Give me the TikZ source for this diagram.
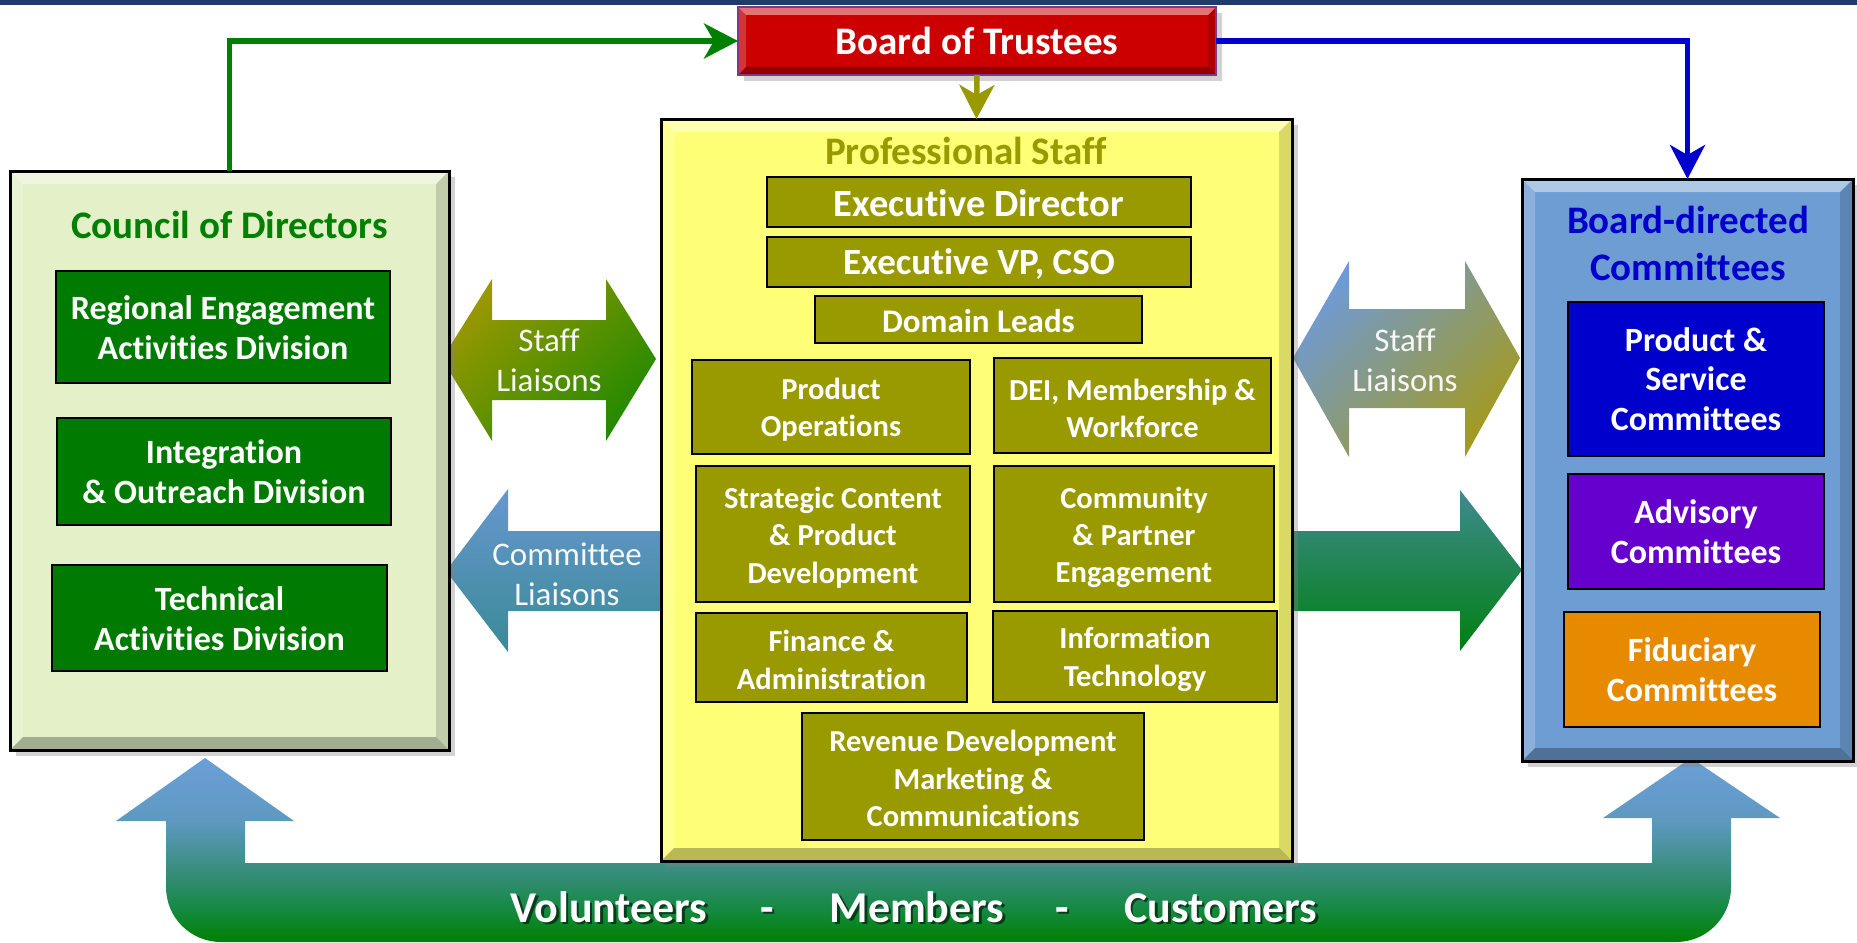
\documentclass[tikz,border=0pt]{standalone}
\usepackage{fontspec}
\setmainfont{Carlito}[Ligatures={NoCommon}]
\usetikzlibrary{arrows.meta,shadows,calc}

\definecolor{topband}{HTML}{1F3B68}
\definecolor{trustred}{HTML}{CC0000}
\definecolor{trustborder}{HTML}{7A3A8A}
\definecolor{councilbg}{HTML}{E3F0C8}
\definecolor{divgreen}{HTML}{007A00}
\definecolor{titlegreen}{HTML}{008000}
\definecolor{staffyellow}{HTML}{FFFF77}
\definecolor{olivebox}{HTML}{999900}
\definecolor{boardblue}{HTML}{6D9DD3}
\definecolor{titleblue}{HTML}{0000CC}
\definecolor{psblue}{HTML}{0000CC}
\definecolor{advpurple}{HTML}{6600CC}
\definecolor{fidorange}{HTML}{E88A00}
\definecolor{lsA}{HTML}{9A9800}
\definecolor{lsB}{HTML}{248A00}
\definecolor{rsA}{HTML}{6F9AD6}
\definecolor{rsB}{HTML}{A39A20}
\definecolor{clA}{HTML}{6797D0}
\definecolor{clB}{HTML}{3A8A95}
\definecolor{rgA}{HTML}{3F8A90}
\definecolor{rgB}{HTML}{008010}
\definecolor{uS1}{HTML}{008000}
\definecolor{uS2}{HTML}{168A45}
\definecolor{uS3}{HTML}{2D8B6A}
\definecolor{uS4}{HTML}{3F8F88}
\definecolor{uS5}{HTML}{5094A8}
\definecolor{uS6}{HTML}{5E99C0}
\definecolor{uS7}{HTML}{6B9FD8}

\pgfdeclareverticalshading{ushade}{100bp}{color(0bp)=(uS1); color(25bp)=(uS1); color(34.5bp)=(uS2); color(41bp)=(uS3); color(46.5bp)=(uS4); color(52.7bp)=(uS5); color(57.9bp)=(uS6); color(75bp)=(uS7); color(100bp)=(uS7)}

% panel without text
\newcommand\orgbox[6]{%
  \pgfmathsetmacro\obw{#4-#2}%
  \pgfmathsetmacro\obh{#5-#3}%
  \node[#6, minimum width=\obw pt, minimum height=\obh pt] (#1) at ({(#2+#4)/2},{(#3+#5)/2}) {};%
}
% unit box with text (text shifted down by #8)
\newcommand\unitnode[8]{%
  \pgfmathsetmacro\obw{#4-#2}%
  \pgfmathsetmacro\obh{#5-#3}%
  \node[#6, minimum width=\obw pt, minimum height=\obh pt] (#1) at ({(#2+#4)/2},{(#3+#5)/2}) {};%
  \node[#6, draw=none, fill=none, minimum width=0pt, minimum height=0pt, yshift=-#8pt] (#1text) at (#1) {#7};%
}
\newcommand\bevelbox[4]{%
  \fill[white,opacity=.45] (#1.north west) -- (#1.north east) -- ($(#1.north east)+(-#2,#2)$) -- ($(#1.north west)+(#2,#2)$) -- cycle;
  \fill[white,opacity=.2] (#1.north west) -- ($(#1.north west)+(#2,#2)$) -- ($(#1.south west)+(#2,-#2)$) -- (#1.south west) -- cycle;
  \fill[black,opacity=.28] (#1.south west) -- ($(#1.south west)+(#2,-#2)$) -- ($(#1.south east)+(-#2,-#2)$) -- (#1.south east) -- cycle;
  \fill[black,opacity=.15] (#1.north east) -- (#1.south east) -- ($(#1.south east)+(-#2,-#2)$) -- ($(#1.north east)+(-#2,#2)$) -- cycle;
  \draw[line width=#3, draw=#4] (#1.north west) rectangle (#1.south east);
}

\begin{document}
\begin{tikzpicture}[x=1pt,y=-1pt,
  every node/.style={inner sep=0pt, outer sep=0pt},
  panelbox/.style={fill=#1, drop shadow={shadow xshift=6pt,shadow yshift=-6pt,opacity=.35}},
  unitbox/.style={draw=black, line width=2.5pt, fill=#1, text=white, align=center},
  divbox/.style={unitbox=divgreen, font=\bfseries\fontsize{34}{40}\selectfont},
  olbox/.style={unitbox=olivebox, font=\bfseries\fontsize{30.5}{37.3}\selectfont},
  execbox/.style={unitbox=olivebox, font=\bfseries\fontsize{#1}{44}\selectfont},
  combox/.style={unitbox=#1, font=\bfseries\fontsize{34}{39.5}\selectfont},
  paneltitle/.style={text=#1, align=center, font=\bfseries\fontsize{39}{47}\selectfont},
  liaison/.style={text=white!94!gray, align=center, font=\fontsize{33}{40}\selectfont},
  peopletext/.style={text=white, anchor=base, font=\bfseries\fontsize{44}{50}\selectfont},
  peopleshadow/.style={text=black, opacity=.55, anchor=base, font=\bfseries\fontsize{44}{50}\selectfont},
  tipstyle/.style={-{Stealth[length=34pt,width=35pt,inset=10pt]}},
  linkgreen/.style={draw=titlegreen, line width=5.5pt, tipstyle},
  linkblue/.style={draw=titleblue, line width=5.5pt, tipstyle},
  linkolive/.style={draw=olivebox, line width=5.5pt, tipstyle},
]
\useasboundingbox (0,0) rectangle (1857,942);
\fill[white] (0,0) rectangle (1857,942);
\fill[topband] (0,0) rectangle (1857,5);

% ---- bottom U arrow
\path[shade, shading=ushade]
  (205,758) -- (294,821) -- (245,821) -- (245,863) -- (1652,863) -- (1652,818) -- (1603,818)
  -- (1691,758) -- (1780,818) -- (1731,818) -- (1731,887)
  .. controls (1731,917) and (1707,942) .. (1676,942) -- (221,942)
  .. controls (191,942) and (166,918) .. (166,887) -- (166,821) -- (116,821) -- cycle;
\node[peopleshadow] (volsh) at (611.5,924.5) {Volunteers};
\node[peopleshadow] (d1sh) at (769.5,924.5) {-};
\node[peopleshadow] (memsh) at (919.5,924.5) {Members};
\node[peopleshadow] (d2sh) at (1064.5,924.5) {-};
\node[peopleshadow] (cussh) at (1223.5,924.5) {Customers};
\node[peopletext] (vol) at (609,922) {Volunteers};
\node[peopletext] (d1) at (767,922) {-};
\node[peopletext] (mem) at (917,922) {Members};
\node[peopletext] (d2) at (1062,922) {-};
\node[peopletext] (cus) at (1221,922) {Customers};

% ---- block arrows
\path[shade, top color=lsA, bottom color=lsB, shading angle=45]
  (442,359) -- (492,279) -- (492,320) -- (606,320) -- (606,279) -- (656,359)
  -- (606,441) -- (606,400) -- (492,400) -- (492,441) -- cycle;
\path[shade, top color=clA, bottom color=clB]
  (661,531) -- (508,531) -- (508,489) -- (446,571) -- (508,652) -- (508,611) -- (661,611) -- cycle;
\path[shade, top color=rsA, bottom color=rsB, shading angle=45]
  (1293,358) -- (1349,261) -- (1349,309) -- (1465,309) -- (1465,261) -- (1520,358)
  -- (1465,457) -- (1465,408) -- (1349,408) -- (1349,457) -- cycle;
\path[shade, top color=rgA, bottom color=rgB]
  (1291,531) -- (1460,531) -- (1460,490) -- (1522,570) -- (1460,651) -- (1460,611) -- (1291,611) -- cycle;
\node[liaison] (lsl) at (549,360) {Staff\\Liaisons};
\node[liaison] (cml) at (567,574) {Committee\\Liaisons};
\node[liaison] (rsl) at (1405,360) {Staff\\Liaisons};

% ---- panels
\orgbox{trustees}{738}{7}{1216}{75}{panelbox=trustred}
\bevelbox{trustees}{8}{2pt}{trustborder}
\node[text=white, font=\bfseries\fontsize{39}{44}\selectfont] (trusteestext) at (trustees) {Board of Trustees};

\orgbox{council}{10}{171}{449}{750}{panelbox=councilbg}
\bevelbox{council}{13}{3pt}{black}
\orgbox{staff}{661}{119}{1292}{861}{panelbox=staffyellow}
\bevelbox{staff}{13}{3pt}{black}
\orgbox{board}{1522}{179}{1853}{761}{panelbox=boardblue}
\bevelbox{board}{13}{3pt}{black}

% ---- titles
\node[paneltitle=titlegreen] (counciltitle) at (229.5,225) {Council of Directors};
\node[paneltitle=olivebox] (stafftitle) at (966,150.5) {Professional Staff};
\node[paneltitle=titleblue] (boardtitle) at (1688,243) {Board-directed\\Committees};

% ---- council divisions
\unitnode{regional}{56}{271}{390}{383}{divbox}{Regional Engagement\\Activities Division}{0.5}
\unitnode{integration}{57}{418}{391}{525}{divbox}{Integration\\\& Outreach Division}{0.5}
\unitnode{technical}{52}{565}{387}{671}{divbox}{Technical\\Activities Division}{0.5}

% ---- professional staff units
\unitnode{execdir}{767}{177}{1191}{227}{execbox=38.5}{Executive Director}{1.5}
\unitnode{execvp}{767}{237}{1191}{287}{execbox=37}{Executive VP, CSO}{2}
\unitnode{domain}{815}{296}{1142}{343}{olbox, font=\bfseries\fontsize{33}{38}\selectfont}{Domain Leads}{1.5}
\unitnode{prodops}{692}{360}{970}{454}{olbox}{Product\\Operations}{3}
\unitnode{dei}{994}{358}{1271}{453}{olbox}{DEI, Membership \&\\Workforce}{3}
\unitnode{strategic}{696}{466}{970}{602}{olbox}{Strategic Content\\\& Product\\Development}{3.5}
\unitnode{community}{994}{466}{1274}{602}{olbox}{Community\\\& Partner\\Engagement}{3.5}
\unitnode{finance}{696}{613}{967}{702}{olbox}{Finance \&\\Administration}{2.5}
\unitnode{infotech}{993}{611}{1277}{702}{olbox}{Information\\Technology}{3}
\unitnode{revenue}{802}{713}{1144}{840}{olbox}{Revenue Development\\Marketing \&\\Communications}{2}

% ---- committees
\unitnode{prodserv}{1568}{302}{1824}{456}{combox=psblue}{Product \&\\Service\\Committees}{0}
\unitnode{advisory}{1568}{474}{1824}{589}{combox=advpurple}{Advisory\\Committees}{0}
\unitnode{fiduciary}{1564}{612}{1820}{727}{combox=fidorange}{Fiduciary\\Committees}{0}

% ---- connectors
\draw[linkgreen] (council.north) |- (trustees.west);
\draw[linkblue] (trustees.east) -| (board.north);
\draw[linkolive] (trustees.south) -- (staff.north);
\end{tikzpicture}
\end{document}
